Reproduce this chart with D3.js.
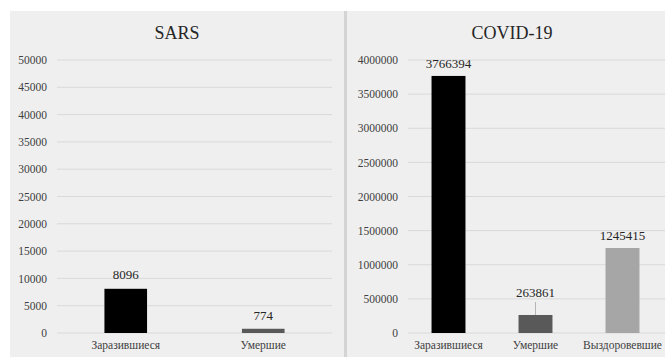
<!DOCTYPE html>
<html>
<head>
<meta charset="utf-8">
<script src="https://cdn.jsdelivr.net/npm/d3@7"></script>
<style>
  body { margin: 0; background: #fff; }
  svg { display: block; font-family: "Liberation Serif", "DejaVu Serif", serif; }
</style>
</head>
<body>
<svg id="chart" width="665" height="357"></svg>
<script>
// datos SARS
var sarsCategorias = ['Заразившиеся', 'Умершие'];
var sarsValores = [8096, 774];
var sarsTicks = [0, 5000, 10000, 15000, 20000, 25000, 30000, 35000, 40000, 45000, 50000];

// datos COVID-19
var covidCategorias = ['Заразившиеся', 'Умершие', 'Выздоровевшие'];
var covidValores = [3766394, 263861, 1245415];
var covidTicks = [0, 500000, 1000000, 1500000, 2000000, 2500000, 3000000, 3500000, 4000000];

var colores = ['#000000', '#595959', '#a6a6a6'];

var svg = d3.select('#chart');

// fondo de paneles
svg.append('rect').attr('x', 10).attr('y', 11).attr('width', 334).attr('height', 346).attr('fill', '#efefef');
svg.append('rect').attr('x', 347).attr('y', 11).attr('width', 318).attr('height', 346).attr('fill', '#efefef');
svg.append('rect').attr('x', 344).attr('y', 11).attr('width', 3).attr('height', 346).attr('fill', '#d4d4d4');

function panel(cfg) {
    var y = d3.scaleLinear().domain(cfg.dominio).range([333, 60]);
    var x = d3.scaleBand().domain(cfg.categorias).range(cfg.rangoX)
        .paddingInner(cfg.padding).paddingOuter(cfg.padding / 2);

    var g = svg.append('g');

    // titulo
    g.append('text')
        .attr('x', cfg.tituloX)
        .attr('y', 39)
        .attr('text-anchor', 'middle')
        .attr('font-size', '18px')
        .attr('fill', '#262626')
        .text(cfg.titulo);

    // lineas de la grilla
    g.selectAll('line.grid').data(cfg.ticks).enter().append('line')
        .attr('class', 'grid')
        .attr('x1', cfg.gridX[0]).attr('x2', cfg.gridX[1])
        .attr('y1', function (d) { return y(d); })
        .attr('y2', function (d) { return y(d); })
        .attr('stroke', '#d9d9d9')
        .attr('stroke-width', 1);

    // eje Y
    var ejeY = g.append('g')
        .attr('transform', 'translate(' + cfg.ejeX + ',0)')
        .call(d3.axisLeft(y).tickValues(cfg.ticks).tickSize(0).tickPadding(0).tickFormat(d3.format('d')));
    ejeY.attr('font-family', null).attr('font-size', null);
    ejeY.select('.domain').remove();
    ejeY.selectAll('text').attr('font-size', '11.5px').attr('fill', '#404040');

    // barras
    g.selectAll('rect.barra').data(cfg.valores).enter().append('rect')
        .attr('class', 'barra')
        .attr('x', function (d, i) { return x(cfg.categorias[i]); })
        .attr('y', function (d) { return y(d); })
        .attr('width', x.bandwidth())
        .attr('height', function (d) { return 333 - y(d); })
        .attr('fill', function (d, i) { return colores[i]; });

    // etiquetas de valor
    g.selectAll('text.valor').data(cfg.valores).enter().append('text')
        .attr('class', 'valor')
        .attr('x', function (d, i) { return x(cfg.categorias[i]) + x.bandwidth() / 2; })
        .attr('y', function (d, i) { return y(d) - cfg.offsets[i]; })
        .attr('text-anchor', 'middle')
        .attr('font-size', '13px')
        .attr('fill', '#262626')
        .text(function (d) { return d; });

    // linea guia de etiqueta
    cfg.valores.forEach(function (d, i) {
        if (cfg.offsets[i] > 14) {
            var cx = x(cfg.categorias[i]) + x.bandwidth() / 2;
            g.append('line')
                .attr('x1', cx).attr('x2', cx)
                .attr('y1', y(d) - cfg.offsets[i] + 5).attr('y2', y(d))
                .attr('stroke', '#a6a6a6').attr('stroke-width', 0.8);
        }
    });

    // eje X
    var ejeX = g.append('g')
        .attr('transform', 'translate(0,333)')
        .call(d3.axisBottom(x).tickSize(0).tickPadding(8));
    ejeX.attr('font-family', null).attr('font-size', null);
    ejeX.select('.domain').remove();
    ejeX.selectAll('text').attr('font-size', '11.5px').attr('fill', '#404040')
        .each(function () {
            // si la etiqueta no cabe en su banda, se comprime un poco
            if (this.getComputedTextLength() > x.step() * 0.92) {
                d3.select(this).attr('textLength', x.step() * 0.9).attr('lengthAdjust', 'spacingAndGlyphs');
            }
        });
}

panel({
    titulo: 'SARS', tituloX: 177,
    categorias: sarsCategorias, valores: sarsValores, ticks: sarsTicks,
    dominio: [0, 50000], rangoX: [57, 332], padding: 0.69,
    gridX: [57, 332], ejeX: 47, offsets: [10, 9]
});

panel({
    titulo: 'COVID-19', tituloX: 512,
    categorias: covidCategorias, valores: covidValores, ticks: covidTicks,
    dominio: [0, 4000000], rangoX: [405, 666], padding: 0.61,
    gridX: [408, 665], ejeX: 398, offsets: [8, 18, 8]
});
</script>
</body>
</html>
